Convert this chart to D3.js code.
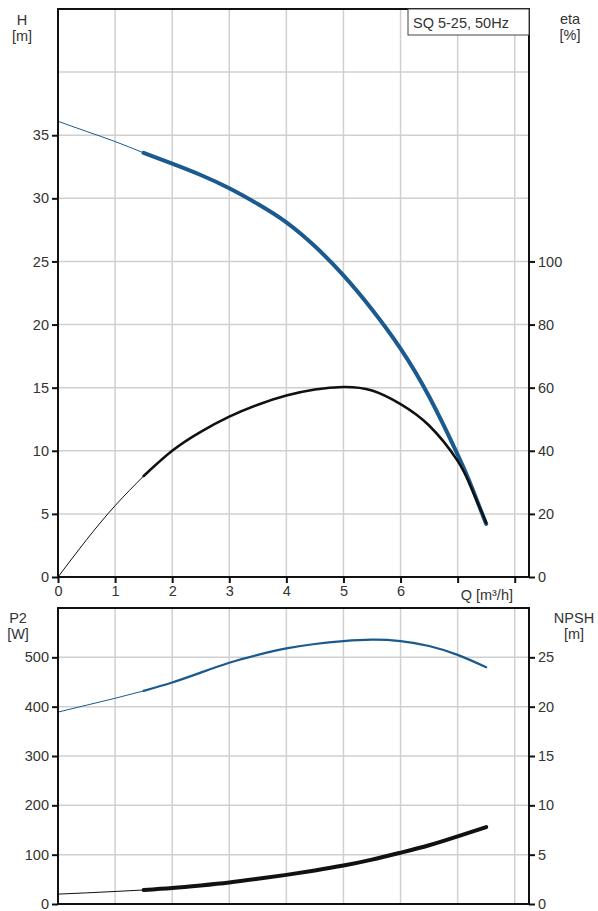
<!DOCTYPE html>
<html>
<head>
<meta charset="utf-8">
<script src="https://d3js.org/d3.v7.min.js"></script>
<style>
  body { margin: 0; background: #fff; }
  text { font-family: "Liberation Sans", Arial, sans-serif; fill: #333; }
</style>
</head>
<body>
<script>
// ---- data ----
const qTicks = [0, 1, 2, 3, 4, 5, 6, 7, 8];
const qLabels = [0, 1, 2, 3, 4, 5, 6];
const hTicks = [0, 5, 10, 15, 20, 25, 30, 35];
const etaTicks = [0, 20, 40, 60, 80, 100];
const p2Ticks = [0, 100, 200, 300, 400, 500];
const npshTicks = [0, 5, 10, 15, 20, 25];

const qH   = [0, 0.5, 1, 1.5, 2, 2.5, 3, 3.5, 4, 4.5, 5, 5.5, 6, 6.5, 7, 7.25, 7.5];
const head = [36.1, 35.3, 34.5, 33.6, 32.75, 31.85, 30.8, 29.55, 28.1, 26.2, 23.9, 21.2, 18.1, 14.3, 9.7, 7.1, 4.2];
const eta  = [0, 11.8, 22.6, 32, 40, 46, 50.8, 54.6, 57.5, 59.4, 60.2, 59.1, 54.8, 48, 36.8, 27.8, 17.2];

const qP   = [0, 0.5, 1, 1.5, 2, 2.5, 3, 3.5, 4, 4.5, 5, 5.5, 6, 6.5, 7, 7.5];
const p2   = [389, 403, 417, 432, 449, 469, 489, 505, 518, 527, 533, 536, 533, 523, 505, 480];
const npsh = [1.0, 1.13, 1.27, 1.42, 1.62, 1.88, 2.18, 2.55, 2.95, 3.4, 3.9, 4.5, 5.2, 5.95, 6.85, 7.8];

const dutyStart = 1.5;      // thin line below this flow
const title = "SQ 5-25, 50Hz";

// ---- layout ----
const W = 598, H = 911;
const left = 58, right = 529;
const top1 = { top: 9, bottom: 577 };
const top2 = { top: 608, bottom: 904 };
const blue = "#1b5a8e";

const svg = d3.select("body").append("svg").attr("width", W).attr("height", H);

const x = d3.scaleLinear().domain([0, 8.25]).range([left, right]);
const yH = d3.scaleLinear().domain([0, 45]).range([top1.bottom, top1.top]);
const yEta = d3.scaleLinear().domain([0, 180]).range([top1.bottom, top1.top]);
const yP = d3.scaleLinear().domain([0, 600]).range([top2.bottom, top2.top]);
const yN = d3.scaleLinear().domain([0, 30]).range([top2.bottom, top2.top]);

function grid(p, yScale, yVals) {
  const g = svg.append("g").attr("stroke", "#d0d0d0").attr("stroke-width", 1.5);
  qTicks.slice(1).forEach(q => g.append("line")
      .attr("x1", x(q)).attr("x2", x(q)).attr("y1", p.top).attr("y2", p.bottom));
  yVals.forEach(v => g.append("line")
      .attr("x1", left).attr("x2", right).attr("y1", yScale(v)).attr("y2", yScale(v)));
}

function frame(p) {
  svg.append("rect").attr("x", left).attr("y", p.top)
     .attr("width", right - left).attr("height", p.bottom - p.top)
     .attr("fill", "none").attr("stroke", "#111").attr("stroke-width", 2);
}

function styleAxis(g) {
  g.select(".domain").remove();
  g.selectAll("line").attr("stroke", "#111").attr("stroke-width", 2);
  g.selectAll("text").attr("font-size", 14.5).attr("fill", "#333")
   .attr("font-family", "Liberation Sans, Arial, sans-serif");
}

function axes(yl, yr, lt, rt) {
  styleAxis(svg.append("g").attr("transform", `translate(${left},0)`)
     .call(d3.axisLeft(yl).tickValues(lt).tickSize(6).tickPadding(3)));
  styleAxis(svg.append("g").attr("transform", `translate(${right},0)`)
     .call(d3.axisRight(yr).tickValues(rt).tickSize(6).tickPadding(3)));
}

function unit(xc, y0, a, b) {
  const t = svg.append("text").attr("x", xc).attr("y", y0).attr("text-anchor", "middle").attr("font-size", 14.5);
  t.append("tspan").attr("x", xc).text(a);
  t.append("tspan").attr("x", xc).attr("dy", 16).text(b);
}

function curve(xs, ys, yScale, color, thin, thick) {
  const pts = xs.map((q, i) => [q, ys[i]]);
  const line = d3.line().x(d => x(d[0])).y(d => yScale(d[1])).curve(d3.curveNatural);
  svg.append("path").attr("d", line(pts.filter(d => d[0] <= dutyStart)))
     .attr("fill", "none").attr("stroke", color).attr("stroke-width", thin);
  svg.append("path").attr("d", line(pts.filter(d => d[0] >= dutyStart)))
     .attr("fill", "none").attr("stroke", color).attr("stroke-width", thick)
     .attr("stroke-linecap", "round");
}

// ---- top panel: H and eta ----
grid(top1, yH, [5, 10, 15, 20, 25, 30, 35, 40]);
curve(qH, head, yH, blue, 1, 4);
curve(qH, eta, yEta, "#111", 1, 2.6);
frame(top1);
axes(yH, yEta, hTicks, etaTicks);

const xa = svg.append("g").attr("transform", `translate(0,${top1.bottom})`)
   .call(d3.axisBottom(x).tickValues(qTicks).tickSize(6).tickPadding(3)
         .tickFormat(d => qLabels.includes(d) ? d : ""));
styleAxis(xa);
svg.append("text").attr("x", x(7) + 3).attr("y", 600).attr("font-size", 14.5).text("Q [m³/h]");

unit(22, 25, "H", "[m]");
unit(570, 24, "eta", "[%]");

svg.append("rect").attr("x", 408).attr("y", top1.top).attr("width", right - 408).attr("height", 26)
   .attr("fill", "#fff").attr("stroke", "#444").attr("stroke-width", 1);
svg.append("text").attr("x", 413).attr("y", 28).attr("font-size", 14.5).text(title);

// ---- bottom panel: P2 and NPSH ----
grid(top2, yP, [100, 200, 300, 400, 500]);
curve(qP, p2, yP, blue, 1, 2.2);
curve(qP, npsh, yN, "#111", 1, 4);
frame(top2);
axes(yP, yN, p2Ticks, npshTicks);

unit(18, 623, "P2", "[W]");
unit(574, 623, "NPSH", "[m]");
</script>
</body>
</html>
